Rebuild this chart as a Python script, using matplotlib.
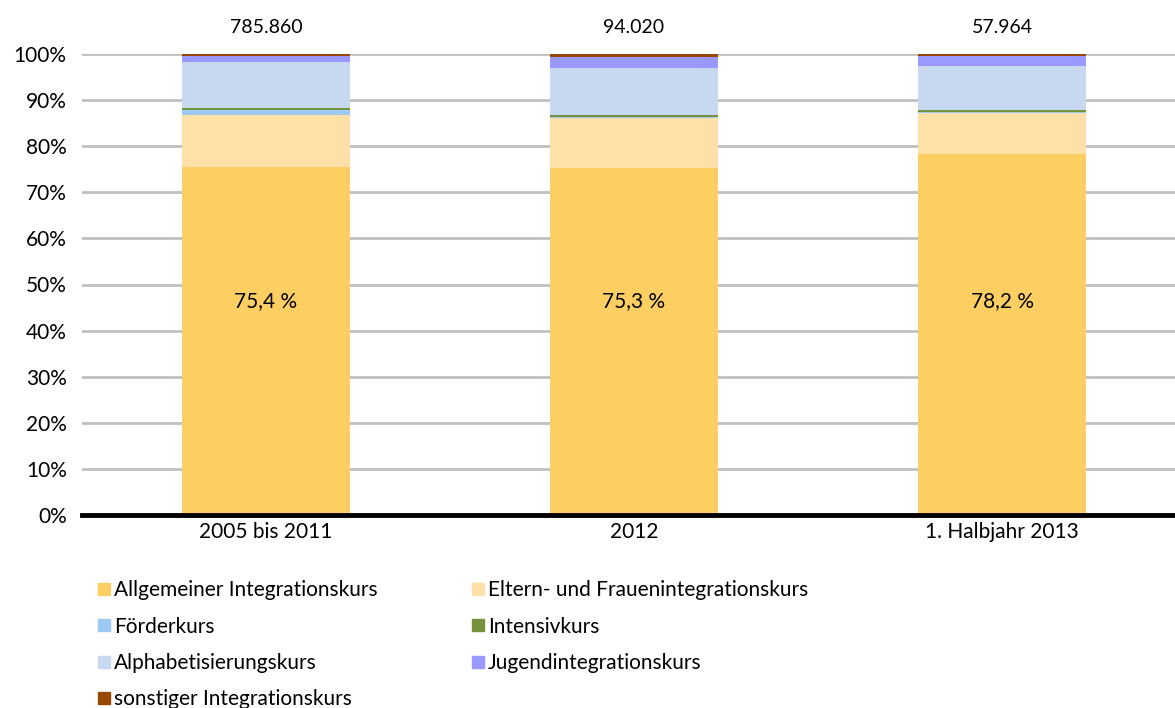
import matplotlib
matplotlib.use("Agg")
import matplotlib.pyplot as plt
from matplotlib.lines import Line2D

plt.rcParams['font.family'] = ['Lato', 'DejaVu Sans']

categories = ["2005 bis 2011", "2012", "1. Halbjahr 2013"]
totals = ["785.860", "94.020", "57.964"]
series_names = ["Allgemeiner Integrationskurs", "Eltern- und Frauenintegrationskurs",
                "Förderkurs", "Intensivkurs", "Alphabetisierungskurs",
                "Jugendintegrationskurs", "sonstiger Integrationskurs"]
allgemein = [75.4, 75.3, 78.2]
eltern = [11.4, 10.8, 9.0]
foerder = [1.1, 0.3, 0.3]
intensiv = [0.35, 0.35, 0.35]
alpha = [10.1, 10.2, 9.5]
jugend = [1.3, 2.4, 2.3]
sonstig = [0.35, 0.65, 0.35]
main_labels = ["75,4 %", "75,3 %", "78,2 %"]

series = [allgemein, eltern, foerder, intensiv, alpha, jugend, sonstig]
colors = ["#FDCE62", "#FFE0A8", "#9DC9F5", "#76923C", "#C6D9F1", "#9999FF", "#974706"]

fig = plt.figure(figsize=(11.75, 7.08), dpi=100)
ax = fig.add_axes([82/1175, 1-515/708, 1-82/1175, (515-54)/708])

x = list(range(len(categories)))
bottom = [0.0]*3
for vals, col, name in zip(series, colors, series_names):
    ax.bar(x, vals, bottom=bottom, width=0.457, color=col, label=name, zorder=3)
    bottom = [b+v for b, v in zip(bottom, vals)]

ax.set_xlim(-0.5, 2.47)
ax.set_ylim(0, 100)
ax.set_yticks(range(0, 101, 10))
ax.set_yticklabels([f"{v}%" for v in range(0, 101, 10)], fontsize=15)
ax.set_xticks(x)
ax.set_xticklabels(categories, fontsize=15)
ax.tick_params(axis='both', length=0)
ax.tick_params(axis='x', pad=5)
ax.tick_params(axis='y', pad=11)
ax.grid(axis='y', color='#C0C0C0', linewidth=2, zorder=0)
for s in ['top', 'right', 'left']:
    ax.spines[s].set_visible(False)
ax.spines['bottom'].set_linewidth(3.5)
ax.spines['bottom'].set_color('black')
ax.spines['bottom'].set_zorder(5)

for xi, t, ml in zip(x, totals, main_labels):
    ax.annotate(t, (xi, 100), xytext=(0, 19), textcoords='offset points',
                ha='center', va='center', fontsize=14, annotation_clip=False)
    ax.text(xi, 46.5, ml, ha='center', va='center', fontsize=15, zorder=4)

handles = [Line2D([], [], marker='s', linestyle='none', markersize=8,
                  markerfacecolor=c, markeredgecolor=c) for c in colors]
order = [0, 2, 4, 6, 1, 3, 5]
fig.legend([handles[i] for i in order], [series_names[i] for i in order],
           ncol=2, loc='upper left',
           bbox_to_anchor=(83/1175, 1-570/708), frameon=False, fontsize=15,
           handletextpad=0.0, columnspacing=4.3, labelspacing=0.78,
           handlelength=1.0, borderpad=0)

fig.savefig("out.png", dpi=100)
